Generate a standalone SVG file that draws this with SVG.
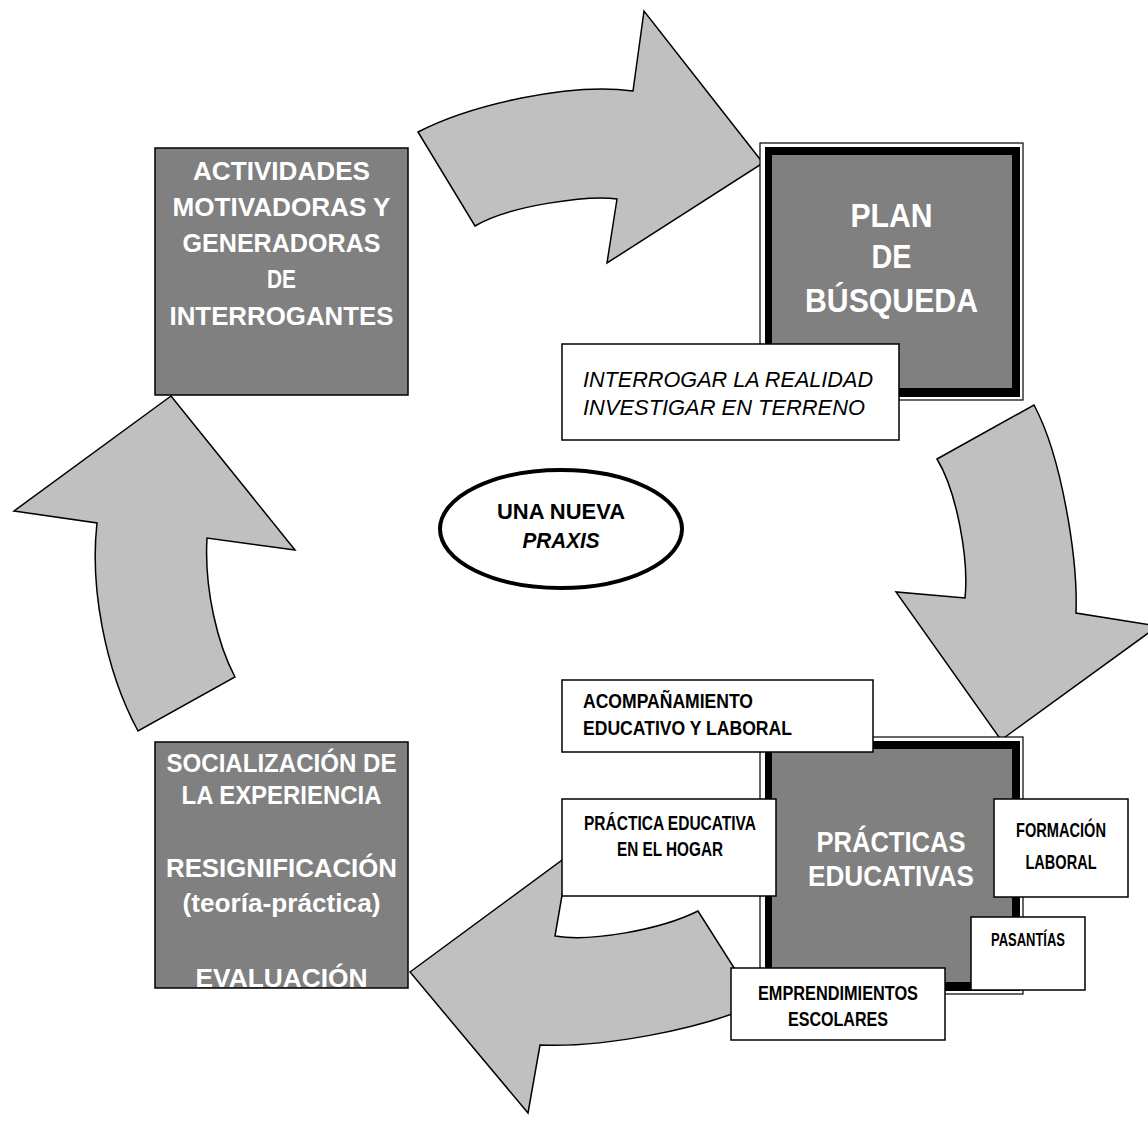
<svg xmlns="http://www.w3.org/2000/svg" width="1148" height="1123" viewBox="0 0 1148 1123">
<style>
.arrow{fill:#c0c0c0;stroke:#000;stroke-width:1.5;stroke-linejoin:miter}
.dark{fill:#808080;stroke:#000;stroke-width:1.5}
.wbox{fill:#fff;stroke:#000;stroke-width:1.5}
.wt{font-family:"Liberation Sans",Arial,sans-serif;font-weight:bold;fill:#fff;text-anchor:middle}
.bt{font-family:"Liberation Sans Narrow","Liberation Sans",Arial,sans-serif;font-weight:bold;fill:#000}
.c{text-anchor:middle}
.it{font-family:"Liberation Sans",Arial,sans-serif;font-style:italic;fill:#000}
</style>
<rect x="0" y="0" width="1148" height="1123" fill="#fff"/>
<g id="connectors">
<path id="arrow-top" class="arrow" d="M418,132 C470,105 570,82 633,91 L644,11 L763,163 L607,263 L617,199 C590,195 510,205 475,226 Z"/>
<path id="arrow-right" class="arrow" d="M937,459 L1034,405 C1062,457 1078,560 1076,613 L1158,626 L1001,740 L896,592 L965,598 C969,560 957,492 937,459 Z"/>
<path id="arrow-bottom" class="arrow" d="M410,972 L569,855 L555,936 C590,942 660,930 698,911 L757,1004 C700,1030 600,1048 540,1045 L528,1113 Z"/>
<path id="arrow-left" class="arrow" d="M171,396 L14,511 L97,523 C90,585 104,668 138,731 L235,677 C218,645 204,590 207,538 L295,550 Z"/>
</g>
<g id="node-actividades">
<rect class="dark" x="155" y="148" width="253" height="247"/>
<text class="wt" font-size="25" x="281.5" y="180" textLength="177" lengthAdjust="spacingAndGlyphs">ACTIVIDADES</text>
<text class="wt" font-size="25" x="281.5" y="216" textLength="218" lengthAdjust="spacingAndGlyphs">MOTIVADORAS Y</text>
<text class="wt" font-size="25" x="281.5" y="252" textLength="198" lengthAdjust="spacingAndGlyphs">GENERADORAS</text>
<text class="wt" font-size="25" x="281.5" y="288" textLength="29" lengthAdjust="spacingAndGlyphs">DE</text>
<text class="wt" font-size="25" x="281.5" y="325" textLength="224" lengthAdjust="spacingAndGlyphs">INTERROGANTES</text>
</g>
<g id="node-plan">
<rect x="760" y="143" width="263" height="257" fill="#fff" stroke="#000" stroke-width="1.2"/>
<rect x="765" y="147" width="255" height="250" fill="#000"/>
<rect x="772" y="155" width="240" height="233" fill="#808080"/>
<text class="wt" font-size="33" x="891.5" y="227" textLength="82" lengthAdjust="spacingAndGlyphs">PLAN</text>
<text class="wt" font-size="33" x="891.5" y="268" textLength="40" lengthAdjust="spacingAndGlyphs">DE</text>
<text class="wt" font-size="33" x="891.5" y="312" textLength="173" lengthAdjust="spacingAndGlyphs">BÚSQUEDA</text>
</g>
<g id="node-interrogar">
<rect class="wbox" x="562" y="344" width="337" height="96"/>
<text class="it" font-size="22" x="583" y="387" textLength="290" lengthAdjust="spacingAndGlyphs">INTERROGAR LA REALIDAD</text>
<text class="it" font-size="22" x="583" y="415" textLength="282" lengthAdjust="spacingAndGlyphs">INVESTIGAR EN TERRENO</text>
</g>
<g id="node-praxis">
<ellipse cx="561" cy="529" rx="121" ry="59" fill="#fff" stroke="#000" stroke-width="4"/>
<text class="bt c" font-size="22" x="561" y="519" textLength="128" lengthAdjust="spacingAndGlyphs">UNA NUEVA</text>
<text class="bt c" font-size="22" font-style="italic" x="561" y="548" textLength="77" lengthAdjust="spacingAndGlyphs">PRAXIS</text>
</g>
<g id="node-practicas">
<rect x="760" y="737" width="263" height="257" fill="#fff" stroke="#000" stroke-width="1.2"/>
<rect x="765" y="741" width="255" height="250" fill="#000"/>
<rect x="772" y="749" width="240" height="233" fill="#808080"/>
<text class="wt" font-size="29" x="891" y="852" textLength="149" lengthAdjust="spacingAndGlyphs">PRÁCTICAS</text>
<text class="wt" font-size="29" x="891" y="886" textLength="166" lengthAdjust="spacingAndGlyphs">EDUCATIVAS</text>
</g>
<g id="node-acompanamiento">
<rect class="wbox" x="562" y="680" width="311" height="72"/>
<text class="bt" font-size="20.5" x="583" y="708" textLength="170" lengthAdjust="spacingAndGlyphs">ACOMPAÑAMIENTO</text>
<text class="bt" font-size="20.5" x="583" y="735" textLength="209" lengthAdjust="spacingAndGlyphs">EDUCATIVO Y LABORAL</text>
</g>
<g id="node-hogar">
<rect class="wbox" x="562" y="799" width="214" height="97"/>
<text class="bt c" font-size="20.5" x="670" y="830" textLength="172" lengthAdjust="spacingAndGlyphs">PRÁCTICA EDUCATIVA</text>
<text class="bt c" font-size="20.5" x="670" y="856" textLength="106" lengthAdjust="spacingAndGlyphs">EN EL HOGAR</text>
</g>
<g id="node-formacion">
<rect class="wbox" x="994" y="799" width="134" height="98"/>
<text class="bt c" font-size="20" x="1061" y="837" textLength="90" lengthAdjust="spacingAndGlyphs">FORMACIÓN</text>
<text class="bt c" font-size="20" x="1061" y="869" textLength="71" lengthAdjust="spacingAndGlyphs">LABORAL</text>
</g>
<g id="node-pasantias">
<rect class="wbox" x="971" y="917" width="114" height="73"/>
<text class="bt c" font-size="18" x="1028" y="946" textLength="74" lengthAdjust="spacingAndGlyphs">PASANTÍAS</text>
</g>
<g id="node-emprendimientos">
<rect class="wbox" x="731" y="968" width="214" height="72"/>
<text class="bt c" font-size="20" x="838" y="1000" textLength="160" lengthAdjust="spacingAndGlyphs">EMPRENDIMIENTOS</text>
<text class="bt c" font-size="20" x="838" y="1026" textLength="100" lengthAdjust="spacingAndGlyphs">ESCOLARES</text>
</g>
<g id="node-socializacion">
<rect class="dark" x="155" y="742" width="253" height="246"/>
<text class="wt" font-size="25" x="281.5" y="772" textLength="230" lengthAdjust="spacingAndGlyphs">SOCIALIZACIÓN DE</text>
<text class="wt" font-size="25" x="281.5" y="804" textLength="200" lengthAdjust="spacingAndGlyphs">LA EXPERIENCIA</text>
<text class="wt" font-size="25" x="281.5" y="877" textLength="231" lengthAdjust="spacingAndGlyphs">RESIGNIFICACIÓN</text>
<text class="wt" font-size="25" x="281.5" y="912" textLength="198" lengthAdjust="spacingAndGlyphs">(teoría-práctica)</text>
<text class="wt" font-size="25" x="281.5" y="987" textLength="172" lengthAdjust="spacingAndGlyphs">EVALUACIÓN</text>
</g>
</svg>
